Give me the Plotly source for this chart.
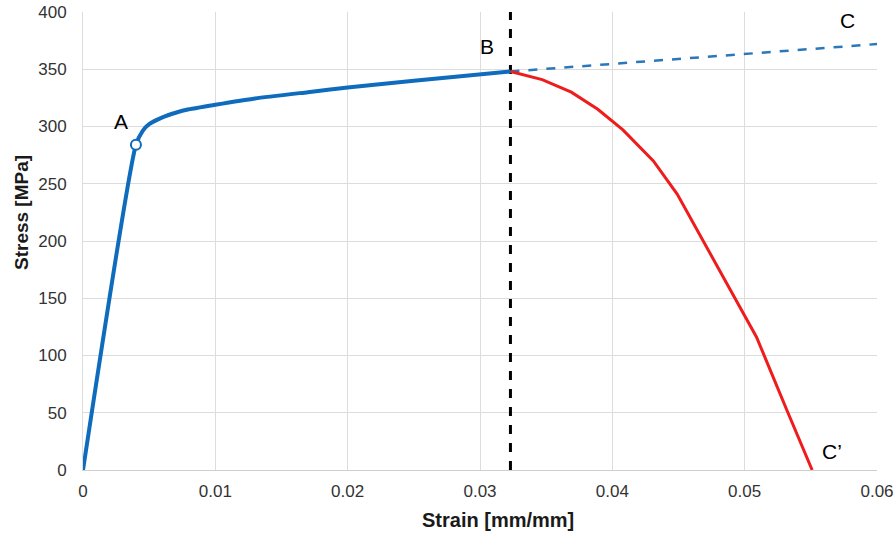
import plotly.graph_objects as go

# Data
strain_main = [0.0, 0.004, 0.0045, 0.005, 0.006, 0.007, 0.008, 0.010, 0.013, 0.017, 0.020, 0.025, 0.0323]
stress_main = [0, 284, 296, 302, 308, 312, 315, 319, 324.5, 330, 334, 340, 348]

strain_ext = [0.0323, 0.060]
stress_ext = [348, 372]

strain_neck = [0.0323, 0.0347, 0.0369, 0.0389, 0.0408, 0.0431, 0.0449, 0.0470, 0.0492, 0.0509, 0.0532, 0.0551]
stress_neck = [348, 341, 330, 315, 297, 270, 241, 197, 151, 116, 52, 0]

point_a = (0.004, 284)
uts_strain = 0.0323

labels = ["A", "B", "C", "C\u2019"]
label_x = [0.0029, 0.0305, 0.0578, 0.0566]
label_y = [304, 370, 393, 16]

x_ticks = [0, 0.01, 0.02, 0.03, 0.04, 0.05, 0.06]
x_tick_text = ["0", "0.01", "0.02", "0.03", "0.04", "0.05", "0.06"]
y_ticks = [0, 50, 100, 150, 200, 250, 300, 350, 400]

FONT = "Liberation Sans, Arial"
BLUE = "#0f6cbd"
fig = go.Figure()
fig.add_trace(go.Scatter(x=[uts_strain, uts_strain], y=[0, 400], mode="lines",
                         line=dict(color="black", width=3, dash="dash"), hoverinfo="skip"))
fig.add_trace(go.Scatter(x=strain_ext, y=stress_ext, mode="lines",
                         line=dict(color="#2a78ba", width=2.5, dash="dash")))
fig.add_trace(go.Scatter(x=strain_neck, y=stress_neck, mode="lines",
                         line=dict(color="#ee1c1c", width=3)))
fig.add_trace(go.Scatter(x=strain_main, y=stress_main, mode="lines",
                         line=dict(color=BLUE, width=4, shape="spline", smoothing=0.6)))
fig.add_trace(go.Scatter(x=[point_a[0]], y=[point_a[1]], mode="markers",
                         marker=dict(size=10, color="white", line=dict(color=BLUE, width=2))))

for t, x, y in zip(labels, label_x, label_y):
    fig.add_annotation(x=x, y=y, text=t, showarrow=False,
                       font=dict(family=FONT, size=21, color="black"))

# axis titles as paper-positioned text
fig.add_annotation(xref="paper", yref="paper", x=(498 - 83) / 794, y=-(520 - 470) / 458,
                   xanchor="center", yanchor="middle",
                   text="<b>Strain [mm/mm]</b>", showarrow=False,
                   font=dict(family=FONT, size=20, color="#1a1a1a"))
fig.add_annotation(xref="paper", yref="paper", x=-(83 - 22) / 794, y=(470 - 213) / 458,
                   xanchor="center", yanchor="middle",
                   text="<b>Stress [MPa]</b>", showarrow=False, textangle=-90,
                   font=dict(family=FONT, size=19, color="#1a1a1a"))

fig.update_layout(
    width=895, height=536,
    margin=dict(l=83, r=18, t=12, b=66, autoexpand=False),
    plot_bgcolor="white", paper_bgcolor="white",
    showlegend=False,
    font=dict(family=FONT, color="#333"),
)
fig.update_xaxes(range=[0, 0.06], tickvals=x_ticks, ticktext=x_tick_text,
                 showgrid=True, gridcolor="#dcdcdc", gridwidth=1, automargin=False,
                 showline=True, linecolor="#cfcfcf", zeroline=False,
                 ticklabelstandoff=6,
                 tickfont=dict(size=17, color="#333"))
fig.update_yaxes(range=[0, 400], tickvals=y_ticks, automargin=False,
                 showgrid=True, gridcolor="#dcdcdc", gridwidth=1,
                 showline=True, linecolor="#dcdcdc", zeroline=False,
                 ticklabelstandoff=12,
                 tickfont=dict(size=17, color="#333"))

fig.write_html("out.html")
